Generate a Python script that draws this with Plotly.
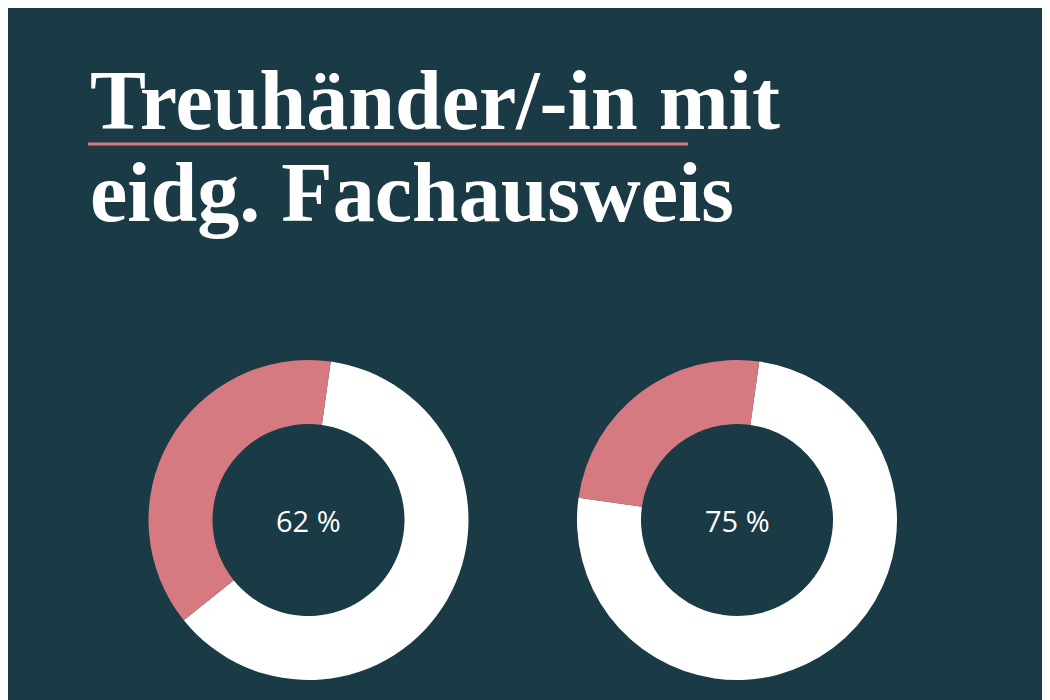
import plotly.graph_objects as go

labels = ["Ja", "Rest"]
values_a = [62, 38]
values_b = [75, 25]
center_texts = ["62 %", "75 %"]
title_lines = ["Treuhänder/-in mit", "eidg. Fachausweis"]

BG = "#1a3a45"
PINK = "#d47a80"
W, H = 1050, 700

fig = go.Figure()
domains = [(140, 461), (569, 889)]
for vals, (x0, x1), txt in zip([values_a, values_b], domains, center_texts):
    fig.add_trace(go.Pie(
        labels=labels, values=vals, hole=0.6, sort=False, direction="clockwise",
        rotation=8, marker=dict(colors=["white", PINK], line=dict(width=0)),
        textinfo="none", hoverinfo="none", showlegend=False,
        domain=dict(x=[x0 / W, x1 / W], y=[28 / H, 348 / H]),
    ))
    fig.add_annotation(x=(x0 + x1) / 2 / W, y=188 / H, xref="paper", yref="paper",
                       xanchor="center", yanchor="middle",
                       text=txt, showarrow=False,
                       font=dict(family="Open Sans", size=29, color="white"))

for i, line in enumerate(title_lines):
    fig.add_annotation(x=80 / W, y=(700 - (92 + i * 92)) / H, xref="paper", yref="paper",
                       xanchor="left", yanchor="middle", text="<b>" + line + "</b>",
                       showarrow=False,
                       font=dict(family="Liberation Serif", size=84, color="white"))

fig.add_shape(type="line", xref="paper", yref="paper",
              x0=80 / W, x1=680 / W, y0=(700 - 136) / H, y1=(700 - 136) / H,
              line=dict(color=PINK, width=3))

fig.update_layout(width=W, height=H, margin=dict(l=0, r=0, t=0, b=0),
                  paper_bgcolor=BG, plot_bgcolor=BG)
fig.write_html("out.html")
